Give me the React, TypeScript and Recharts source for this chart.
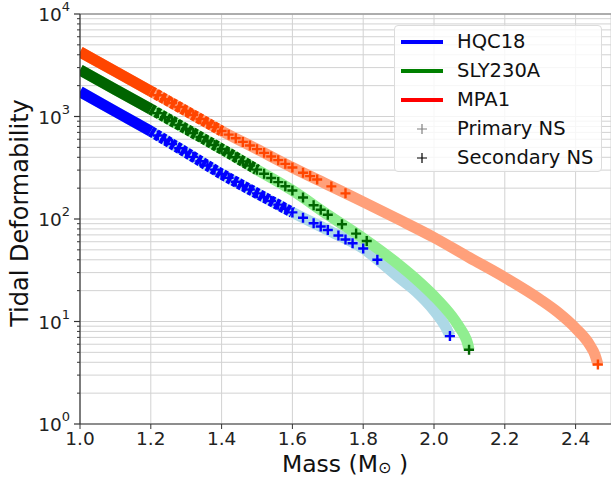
import React from 'react';
import {
  ComposedChart,
  Line,
  Scatter,
  XAxis,
  YAxis,
  CartesianGrid,
  ReferenceLine,
} from 'recharts';

// mass (M_sun) vs tidal deformability
const hqc18 = [
  { m: 1.0, v: 1750 }, { m: 1.1, v: 1120 }, { m: 1.2, v: 717 }, { m: 1.3, v: 445 },
  { m: 1.4, v: 275 }, { m: 1.5, v: 178 }, { m: 1.6, v: 116 }, { m: 1.7, v: 78 },
  { m: 1.8, v: 51.5 }, { m: 1.9, v: 27 }, { m: 1.95, v: 19.5 }, { m: 2.0, v: 12.8 },
  { m: 2.03, v: 9.2 }, { m: 2.04, v: 7.9 }, { m: 2.045, v: 7.2 },
];
const sly230a = [
  { m: 1.0, v: 2850 }, { m: 1.1, v: 1830 }, { m: 1.2, v: 1180 }, { m: 1.3, v: 755 },
  { m: 1.4, v: 482 }, { m: 1.5, v: 303 }, { m: 1.6, v: 190 }, { m: 1.7, v: 110 },
  { m: 1.8, v: 65 }, { m: 1.9, v: 36 }, { m: 1.95, v: 25.8 }, { m: 2.0, v: 17.7 },
  { m: 2.05, v: 11.3 }, { m: 2.07, v: 9.0 }, { m: 2.085, v: 7.4 }, { m: 2.095, v: 6.1 },
  { m: 2.099, v: 5.3 },
];
const mpa1 = [
  { m: 1.0, v: 4270 }, { m: 1.1, v: 2750 }, { m: 1.2, v: 1765 }, { m: 1.3, v: 1130 },
  { m: 1.4, v: 722 }, { m: 1.5, v: 480 }, { m: 1.6, v: 318 }, { m: 1.7, v: 216 },
  { m: 1.8, v: 147 }, { m: 1.9, v: 99 }, { m: 2.0, v: 66 }, { m: 2.1, v: 42 },
  { m: 2.2, v: 26.9 }, { m: 2.3, v: 16.4 }, { m: 2.35, v: 12.3 }, { m: 2.4, v: 8.6 },
  { m: 2.44, v: 5.9 }, { m: 2.455, v: 4.7 }, { m: 2.463, v: 3.8 },
];

// binary components (drawn as + markers)
const hqc18Stars = [
  { m: 1.22, v: 652 }, { m: 1.24, v: 593 }, { m: 1.26, v: 539 }, { m: 1.28, v: 490 },
  { m: 1.3, v: 445 }, { m: 1.32, v: 404 }, { m: 1.34, v: 367 }, { m: 1.36, v: 333 },
  { m: 1.38, v: 303 }, { m: 1.4, v: 275 }, { m: 1.42, v: 252 }, { m: 1.44, v: 231 },
  { m: 1.46, v: 212 }, { m: 1.48, v: 194 }, { m: 1.5, v: 178 }, { m: 1.52, v: 163 },
  { m: 1.54, v: 150 }, { m: 1.56, v: 138 }, { m: 1.58, v: 126 }, { m: 1.6, v: 116 },
  { m: 1.63, v: 103 }, { m: 1.66, v: 91 }, { m: 1.68, v: 84.5 }, { m: 1.7, v: 78 },
  { m: 1.73, v: 69 }, { m: 1.75, v: 63 }, { m: 1.77, v: 58 }, { m: 1.8, v: 51.5 },
  { m: 1.84, v: 40 }, { m: 2.045, v: 7.2 },
];
const sly230aStars = [
  { m: 1.22, v: 1079 }, { m: 1.24, v: 987 }, { m: 1.26, v: 903 }, { m: 1.28, v: 825 },
  { m: 1.3, v: 755 }, { m: 1.32, v: 690 }, { m: 1.34, v: 631 }, { m: 1.36, v: 577 },
  { m: 1.38, v: 527 }, { m: 1.4, v: 482 }, { m: 1.42, v: 439 }, { m: 1.44, v: 400 },
  { m: 1.46, v: 365 }, { m: 1.48, v: 332 }, { m: 1.5, v: 303 }, { m: 1.52, v: 276 },
  { m: 1.54, v: 251 }, { m: 1.56, v: 229 }, { m: 1.58, v: 209 }, { m: 1.6, v: 190 },
  { m: 1.63, v: 162 }, { m: 1.66, v: 136 }, { m: 1.68, v: 123 }, { m: 1.7, v: 110 },
  { m: 1.74, v: 89 }, { m: 1.78, v: 72 }, { m: 1.81, v: 61 }, { m: 2.099, v: 5.3 },
];
const mpa1Stars = [
  { m: 1.22, v: 1614 }, { m: 1.24, v: 1477 }, { m: 1.26, v: 1351 }, { m: 1.28, v: 1236 },
  { m: 1.3, v: 1130 }, { m: 1.32, v: 1033 }, { m: 1.34, v: 945 }, { m: 1.36, v: 864 },
  { m: 1.38, v: 790 }, { m: 1.4, v: 722 }, { m: 1.42, v: 665 }, { m: 1.44, v: 613 },
  { m: 1.46, v: 565 }, { m: 1.48, v: 521 }, { m: 1.5, v: 480 }, { m: 1.52, v: 442 },
  { m: 1.54, v: 407 }, { m: 1.56, v: 375 }, { m: 1.58, v: 345 }, { m: 1.6, v: 318 },
  { m: 1.63, v: 283 }, { m: 1.65, v: 262 }, { m: 1.67, v: 243 }, { m: 1.71, v: 208 },
  { m: 1.75, v: 178 }, { m: 2.463, v: 3.8 },
];

const xTicks = [1.0, 1.2, 1.4, 1.6, 1.8, 2.0, 2.2, 2.4];
const decades = [1, 10, 100, 1000, 10000];
const yTicks: number[] = [];
decades.forEach((d, i) => {
  yTicks.push(d);
  if (i < decades.length - 1) for (let k = 2; k <= 9; k++) yTicks.push(d * k);
});

const FONT = 'DejaVu Sans, sans-serif';

const legendItems = [
  { label: 'HQC18', color: '#0000ff', kind: 'line' },
  { label: 'SLY230A', color: '#008000', kind: 'line' },
  { label: 'MPA1', color: '#ff0000', kind: 'line' },
  { label: 'Primary NS', color: '#808080', kind: 'plus' },
  { label: 'Secondary NS', color: '#000000', kind: 'plus' },
];

const Plus = (props: any) => {
  const { cx, cy, fill } = props;
  if (cx == null || cy == null) return null;
  const r = 5;
  return (
    <path
      d={`M${cx - r},${cy}H${cx + r}M${cx},${cy - r}V${cy + r}`}
      stroke={fill}
      strokeWidth={2.4}
      fill="none"
    />
  );
};

const YTick = (props: any) => {
  const { x, y, payload } = props;
  const v = payload.value;
  const e = Math.round(Math.log10(v));
  const major = Math.abs(Math.log10(v) - e) < 1e-9;
  if (!major) {
    return <line x1={x - 3} x2={x} y1={y} y2={y} stroke="#333" strokeWidth={1} />;
  }
  return (
    <g>
      <line x1={x - 6} x2={x} y1={y} y2={y} stroke="#333" strokeWidth={1.2} />
      <text x={x - 10} y={y + 7} textAnchor="end" fontSize={18.5} fontFamily={FONT} fill="#222">
        10
        <tspan dy={-10} fontSize={13}>{e}</tspan>
      </text>
    </g>
  );
};

const lineProps = { dataKey: 'v', strokeWidth: 11, dot: false, isAnimationActive: false, type: 'monotone' as const };
const between = (arr: { m: number; v: number }[], a: number, b: number) => arr.filter((p) => p.m >= a && p.m <= b);

export default function App() {
  return (
    <div style={{ position: 'absolute', left: 0, top: 0, width: 611, height: 478, background: '#fff' }}>
      <ComposedChart width={611} height={478} margin={{ top: 14, right: 0, bottom: 0, left: 0 }}>
        <CartesianGrid stroke="#d2d2d2" strokeWidth={1} />
        <XAxis
          type="number"
          dataKey="m"
          domain={[1.0, 2.5]}
          ticks={xTicks}
          allowDataOverflow
          height={54}
          tickFormatter={(t: number) => t.toFixed(1)}
          tick={{ fontSize: 18.5, fontFamily: FONT, fill: '#222' }}
          tickSize={5}
          tickMargin={3}
          axisLine={{ stroke: '#333', strokeWidth: 1.2 }}
          tickLine={{ stroke: '#333' }}
        />
        <YAxis
          type="number"
          dataKey="v"
          scale="log"
          domain={[1, 10000]}
          ticks={yTicks}
          allowDataOverflow
          width={80}
          tick={<YTick />}
          tickSize={0}
          tickMargin={0}
          tickLine={false}
          axisLine={{ stroke: '#333', strokeWidth: 1.2 }}
          interval={0}
        />
        <ReferenceLine y={10000} stroke="#999" strokeWidth={1.5} />

        <Line data={hqc18} stroke="#add8e6" {...lineProps} />
        <Line data={sly230a} stroke="#90ee90" {...lineProps} />
        <Line data={mpa1} stroke="#ffa07a" {...lineProps} />

        <Line data={between(hqc18, 1.0, 1.2)} stroke="#0000ff" {...lineProps} />
        <Line data={between(sly230a, 1.0, 1.2)} stroke="#006400" {...lineProps} />
        <Line data={between(mpa1, 1.0, 1.2)} stroke="#ff4500" {...lineProps} />

        <Line data={between(hqc18, 1.2, 1.6)} stroke="#0000ff" strokeDasharray="4 2" {...lineProps} />
        <Line data={between(sly230a, 1.2, 1.5)} stroke="#006400" strokeDasharray="4 2" {...lineProps} />
        <Line data={between(mpa1, 1.2, 1.4)} stroke="#ff4500" strokeDasharray="4 2" {...lineProps} />

        <Scatter data={hqc18Stars} dataKey="v" fill="#0000ff" shape={<Plus />} isAnimationActive={false} />
        <Scatter data={sly230aStars} dataKey="v" fill="#006400" shape={<Plus />} isAnimationActive={false} />
        <Scatter data={mpa1Stars} dataKey="v" fill="#ff4500" shape={<Plus />} isAnimationActive={false} />
      </ComposedChart>

      <svg width={611} height={478} style={{ position: 'absolute', left: 0, top: 0, pointerEvents: 'none' }}>
        <text
          transform="translate(28,213) rotate(-90)"
          textAnchor="middle"
          fontSize={24}
          fontFamily={FONT}
          fill="#111"
        >
          Tidal Deformability
        </text>
        <text x={345} y={472} textAnchor="middle" fontSize={23.5} fontFamily={FONT} fill="#111">
          Mass (M
          <tspan dy={1} fontSize={16}>{'\u2299'}</tspan>
          <tspan dy={-1}> )</tspan>
        </text>
      </svg>

      <div
        style={{
          position: 'absolute',
          left: 394,
          top: 25,
          width: 208,
          height: 147,
          boxSizing: 'border-box',
          border: '1px solid #dcdcdc',
          borderRadius: 4,
          background: 'rgba(255,255,255,0.8)',
          fontFamily: FONT,
          fontSize: 19.5,
          color: '#111',
          paddingTop: 1,
        }}
      >
        {legendItems.map((it) => (
          <div key={it.label} style={{ display: 'flex', alignItems: 'center', height: 29, whiteSpace: 'nowrap' }}>
            <div style={{ width: 62, display: 'flex', justifyContent: 'center', paddingLeft: 6, boxSizing: 'border-box' }}>
              {it.kind === 'line' ? (
                <div style={{ width: 42, height: 4, background: it.color, marginRight: 14 }} />
              ) : (
                <svg width={12} height={12} style={{ marginRight: 14 }}>
                  <path d="M1,6H11M6,1V11" stroke={it.color} strokeWidth={1.2} />
                </svg>
              )}
            </div>
            <span>{it.label}</span>
          </div>
        ))}
      </div>
    </div>
  );
}
